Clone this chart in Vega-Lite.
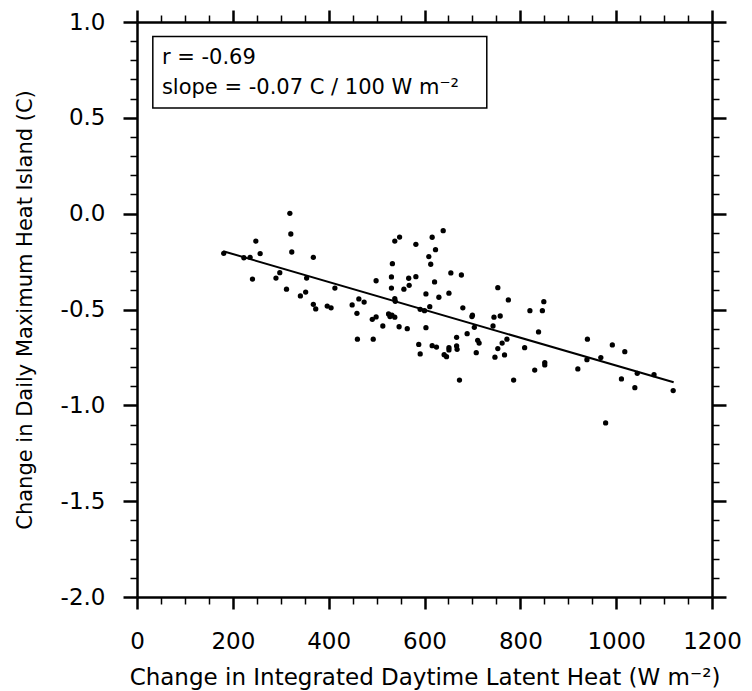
{
  "$schema": "https://vega.github.io/schema/vega-lite/v6.json",
  "width": 575,
  "height": 575,
  "autosize": {"type": "none"},
  "padding": {"left": 137, "top": 22, "right": 40, "bottom": 94},
  "background": "white",
  "config": {"view": {"stroke": null}, "font": "DejaVu Sans"},
  "datasets": {
    "points": [
      {"x":181,"y":-0.207},{"x":223,"y":-0.230},{"x":236,"y":-0.228},{"x":248,"y":-0.143},{"x":257,"y":-0.209},
      {"x":241,"y":-0.341},{"x":319,"y":0.002},{"x":321,"y":-0.106},{"x":323,"y":-0.200},{"x":368,"y":-0.228},
      {"x":290,"y":-0.336},{"x":298,"y":-0.308},{"x":312,"y":-0.394},{"x":341,"y":-0.429},{"x":352,"y":-0.409},
      {"x":354,"y":-0.336},{"x":368,"y":-0.473},{"x":373,"y":-0.497},{"x":397,"y":-0.482},{"x":405,"y":-0.491},
      {"x":413,"y":-0.388},{"x":449,"y":-0.476},{"x":459,"y":-0.520},{"x":460,"y":-0.655},{"x":463,"y":-0.445},
      {"x":474,"y":-0.461},{"x":491,"y":-0.551},{"x":499,"y":-0.539},{"x":493,"y":-0.655},{"x":499,"y":-0.350},
      {"x":513,"y":-0.586},{"x":525,"y":-0.523},{"x":528,"y":-0.537},{"x":532,"y":-0.530},{"x":538,"y":-0.540},
      {"x":531,"y":-0.388},{"x":531,"y":-0.330},{"x":533,"y":-0.261},{"x":538,"y":-0.143},{"x":548,"y":-0.122},
      {"x":538,"y":-0.443},{"x":539,"y":-0.457},{"x":547,"y":-0.590},{"x":557,"y":-0.394},{"x":564,"y":-0.600},
      {"x":567,"y":-0.337},{"x":568,"y":-0.374},{"x":582,"y":-0.160},{"x":582,"y":-0.329},{"x":588,"y":-0.682},
      {"x":591,"y":-0.732},{"x":591,"y":-0.499},{"x":600,"y":-0.506},{"x":603,"y":-0.419},{"x":603,"y":-0.595},
      {"x":611,"y":-0.485},{"x":609,"y":-0.224},{"x":613,"y":-0.264},{"x":616,"y":-0.123},{"x":623,"y":-0.188},
      {"x":621,"y":-0.356},{"x":616,"y":-0.689},{"x":625,"y":-0.696},{"x":630,"y":-0.436},{"x":639,"y":-0.089},
      {"x":641,"y":-0.736},{"x":646,"y":-0.746},{"x":651,"y":-0.711},{"x":651,"y":-0.699},{"x":651,"y":-0.415},
      {"x":655,"y":-0.309},{"x":667,"y":-0.645},{"x":667,"y":-0.690},{"x":668,"y":-0.708},{"x":673,"y":-0.868},
      {"x":677,"y":-0.320},{"x":680,"y":-0.491},{"x":689,"y":-0.626},{"x":699,"y":-0.537},{"x":700,"y":-0.530},
      {"x":704,"y":-0.593},{"x":708,"y":-0.725},{"x":711,"y":-0.661},{"x":714,"y":-0.675},{"x":743,"y":-0.586},
      {"x":745,"y":-0.540},{"x":753,"y":-0.386},{"x":758,"y":-0.534},{"x":747,"y":-0.749},{"x":753,"y":-0.704},
      {"x":762,"y":-0.675},{"x":767,"y":-0.737},{"x":772,"y":-0.655},{"x":775,"y":-0.450},{"x":786,"y":-0.868},
      {"x":809,"y":-0.699},{"x":820,"y":-0.506},{"x":830,"y":-0.816},{"x":838,"y":-0.617},{"x":846,"y":-0.506},
      {"x":849,"y":-0.459},{"x":851,"y":-0.777},{"x":851,"y":-0.789},
      {"x":940,"y":-0.655},{"x":920,"y":-0.810},{"x":939,"y":-0.762},{"x":968,"y":-0.751},{"x":992,"y":-0.685},
      {"x":1018,"y":-0.720},{"x":1011,"y":-0.862},{"x":978,"y":-1.092},{"x":1044,"y":-0.833},{"x":1039,"y":-0.908},
      {"x":1079,"y":-0.840},{"x":1119,"y":-0.923}
    ],
    "fit": [{"x":180,"y":-0.196},{"x":1120,"y":-0.880}],
    "box": [{"x1":33,"x2":730,"y1":0.925,"y2":0.551}],
    "notes": [
      {"x":52,"y":0.781,"label":"r = -0.69"},
      {"x":52,"y":0.624,"label":"slope = -0.07 C / 100 W m⁻²"}
    ]
  },
  "layer": [
    {
      "data": {"name": "points"},
      "mark": {"type": "circle", "size": 28, "color": "black", "opacity": 1},
      "encoding": {
        "x": {"field": "x", "type": "quantitative",
          "scale": {"domain": [0, 1200], "nice": false, "zero": false},
          "axis": {"orient": "bottom",
            "values": [0,50,100,150,200,250,300,350,400,450,500,550,600,650,700,750,800,850,900,950,1000,1050,1100,1150,1200],
            "format": "d",
            "labelExpr": "datum.value % 200 === 0 ? datum.label : ''",
            "tickSize": {"condition": {"test": "datum.value % 200 === 0", "value": 12}, "value": 7},
            "tickWidth": {"condition": {"test": "datum.value % 200 === 0", "value": 2.5}, "value": 1.5},
            "tickColor": "black", "domainColor": "black", "domainWidth": 2.5, "grid": false,
            "labelFont": "DejaVu Sans", "labelFontSize": 23, "labelColor": "black", "labelPadding": 21,
            "labelFlush": false, "labelOverlap": false, "labelBound": false,
            "title": "Change in Integrated Daytime Latent Heat (W m⁻²)",
            "titleFont": "DejaVu Sans", "titleFontSize": 23, "titleFontWeight": "normal", "titleColor": "black", "titlePadding": 13}
        },
        "y": {"field": "y", "type": "quantitative",
          "scale": {"domain": [-2, 1], "nice": false, "zero": false},
          "axis": {"orient": "left",
            "values": [-2,-1.9,-1.8,-1.7,-1.6,-1.5,-1.4,-1.3,-1.2,-1.1,-1,-0.9,-0.8,-0.7,-0.6,-0.5,-0.4,-0.3,-0.2,-0.1,0,0.1,0.2,0.3,0.4,0.5,0.6,0.7,0.8,0.9,1],
            "format": ".1f",
            "labelExpr": "abs(datum.value*2 - round(datum.value*2)) < 0.000001 ? replace(datum.label, '−', '-') : ''",
            "tickSize": {"condition": {"test": "abs(datum.value*2 - round(datum.value*2)) < 0.000001", "value": 14}, "value": 7},
            "tickWidth": {"condition": {"test": "abs(datum.value*2 - round(datum.value*2)) < 0.000001", "value": 2.5}, "value": 1.5},
            "tickColor": "black", "domainColor": "black", "domainWidth": 2.5, "grid": false,
            "labelFont": "DejaVu Sans", "labelFontSize": 23, "labelColor": "black", "labelPadding": 18,
            "labelFlush": false, "labelOverlap": false, "labelBound": false,
            "title": "Change in Daily Maximum Heat Island (C)",
            "titleFont": "DejaVu Sans", "titleFontSize": 21, "titleFontWeight": "normal", "titleColor": "black", "titlePadding": 25}
        }
      }
    },
    {
      "data": {"name": "fit"},
      "mark": {"type": "line", "color": "black", "strokeWidth": 2},
      "encoding": {
        "x": {"field": "x", "type": "quantitative",
          "axis": {"orient": "top",
            "values": [0,50,100,150,200,250,300,350,400,450,500,550,600,650,700,750,800,850,900,950,1000,1050,1100,1150,1200],
            "labels": false, "title": null,
            "tickSize": {"condition": {"test": "datum.value % 200 === 0", "value": 12}, "value": 7},
            "tickWidth": {"condition": {"test": "datum.value % 200 === 0", "value": 2.5}, "value": 1.5},
            "tickColor": "black", "domainColor": "black", "domainWidth": 2.5, "grid": false}
        },
        "y": {"field": "y", "type": "quantitative",
          "axis": {"orient": "right",
            "values": [-2,-1.9,-1.8,-1.7,-1.6,-1.5,-1.4,-1.3,-1.2,-1.1,-1,-0.9,-0.8,-0.7,-0.6,-0.5,-0.4,-0.3,-0.2,-0.1,0,0.1,0.2,0.3,0.4,0.5,0.6,0.7,0.8,0.9,1],
            "labels": false, "title": null,
            "tickSize": {"condition": {"test": "abs(datum.value*2 - round(datum.value*2)) < 0.000001", "value": 14}, "value": 7},
            "tickWidth": {"condition": {"test": "abs(datum.value*2 - round(datum.value*2)) < 0.000001", "value": 2.5}, "value": 1.5},
            "tickColor": "black", "domainColor": "black", "domainWidth": 2.5, "grid": false}
        }
      }
    },
    {
      "data": {"name": "box"},
      "mark": {"type": "rect", "fill": "transparent", "stroke": "black", "strokeWidth": 1.5},
      "encoding": {
        "x": {"field": "x1", "type": "quantitative", "axis": null},
        "x2": {"field": "x2"},
        "y": {"field": "y1", "type": "quantitative", "axis": null},
        "y2": {"field": "y2"}
      }
    },
    {
      "data": {"name": "notes"},
      "mark": {"type": "text", "align": "left", "baseline": "alphabetic", "fontSize": 21, "font": "DejaVu Sans", "color": "black"},
      "encoding": {
        "x": {"field": "x", "type": "quantitative", "axis": null},
        "y": {"field": "y", "type": "quantitative", "axis": null},
        "text": {"field": "label"}
      }
    }
  ],
  "resolve": {"axis": {"x": "independent", "y": "independent"}}
}
